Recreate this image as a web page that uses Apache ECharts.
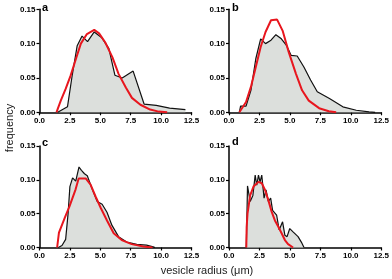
<!DOCTYPE html>
<html><head><meta charset="utf-8">
<script src="https://cdn.jsdelivr.net/npm/echarts@6/dist/echarts.min.js"></script>
<style>html,body{margin:0;padding:0;background:#fff;}#c{width:392px;height:279px;}</style>
</head><body><div id="c"></div>
<script>
// x tick labels and y tick labels
const xTicks = ["0.0","2.5","5.0","7.5","10.0","12.5"];
const yTicks = ["0.00","0.05","0.10","0.15"];
const panelLabels = ["a","b","c","d"];

// Panel a
const blackAx = [1.5,1.9,2.3,2.7,3.1,3.5,3.95,4.5,5.1,5.7,6.2,6.8,7.7,8.6,9.6,10.7,12.0];
const blackAy = [0,0.004,0.008,0.055,0.097,0.111,0.103,0.117,0.109,0.093,0.054,0.050,0.060,0.012,0.010,0.006,0.004];
const redAx = [1.4,1.5,1.75,2.15,2.55,3.0,3.4,3.9,4.5,4.9,5.4,6.0,6.5,7.1,7.6,8.3,9.1,9.8,10.5];
const redAy = [0,0.005,0.017,0.034,0.053,0.078,0.100,0.114,0.120,0.115,0.102,0.080,0.056,0.036,0.021,0.011,0.004,0.001,0];

// Panel b
const blackBx = [0.85,0.95,1.4,1.8,2.2,2.6,3.0,3.45,3.85,4.3,4.7,5.1,5.6,6.15,6.7,7.25,8.25,9.35,10.45,11.5,12.0];
const blackBy = [0,0.009,0.009,0.032,0.078,0.107,0.100,0.105,0.113,0.107,0.098,0.083,0.082,0.066,0.047,0.030,0.020,0.008,0.003,0.0005,0];
const redBx = [0.85,1.4,1.8,2.2,2.6,3.0,3.45,3.95,4.4,4.9,5.5,6.0,6.55,7.4,8.2,8.8];
const redBy = [0,0.015,0.037,0.066,0.095,0.117,0.134,0.135,0.119,0.088,0.056,0.032,0.017,0.006,0.0015,0];

// Panel c
const blackCx = [1.55,1.85,2.15,2.35,2.5,2.72,2.98,3.25,3.45,3.7,3.93,4.3,4.75,5.15,5.55,5.95,6.5,7.17,8.0,8.8,9.35,9.5];
const blackCy = [0,0.003,0.012,0.050,0.090,0.103,0.098,0.119,0.114,0.109,0.106,0.088,0.068,0.064,0.052,0.033,0.016,0.008,0.0045,0.0035,0.001,0];
const redCx = [1.45,1.6,2.1,2.45,2.97,3.22,3.8,4.2,4.62,5.05,5.55,6.1,6.76,7.58,8.54,9.3];
const redCy = [0,0.022,0.045,0.060,0.086,0.102,0.102,0.093,0.075,0.058,0.040,0.021,0.011,0.005,0.0015,0];

// Panel d
const blackDx = [1.42,1.52,1.74,1.96,2.15,2.28,2.42,2.55,2.69,2.88,3.04,3.23,3.42,3.58,3.91,4.12,4.4,4.59,4.77,4.99,5.26,5.67,5.94,6.16];
const blackDy = [0,0.091,0.068,0.077,0.107,0.092,0.107,0.097,0.107,0.073,0.085,0.068,0.073,0.055,0.048,0.026,0.038,0.018,0.016,0.028,0.023,0.016,0.008,0];
const redDx = [1.42,1.45,1.52,1.74,2.01,2.42,2.69,2.96,3.23,3.5,3.77,4.04,4.32,4.59,4.85,5.26];
const redDy = [0,0.03,0.050,0.077,0.090,0.097,0.095,0.085,0.070,0.053,0.040,0.031,0.021,0.011,0.005,0];

const xName = "vesicle radius (μm)";
const yName = "frequency";

const zip = (xs, ys) => xs.map((x, i) => [x, ys[i]]);
const blacks = [zip(blackAx,blackAy), zip(blackBx,blackBy), zip(blackCx,blackCy), zip(blackDx,blackDy)];
const reds = [zip(redAx,redAy), zip(redBx,redBy), zip(redCx,redCy), zip(redDx,redDy)];

const grids = [
  {left: 39.5, top: 9.3, width: 152, height: 103},
  {left: 229, top: 9.3, width: 152.5, height: 103},
  {left: 39.5, top: 146, width: 152, height: 101.5},
  {left: 229, top: 146, width: 152.5, height: 101.5}
];
const FONT = "Liberation Sans";
const axisLine = {show: true, onZero: false, lineStyle: {color: '#000', width: 1.5}};
const axisTick = {show: true, inside: false, length: 3, lineStyle: {color: '#000', width: 1.2}};

const xAxes = grids.map((g, i) => ({
  type: 'value', gridIndex: i, min: 0, max: 12.5, interval: 2.5,
  axisLine, axisTick, splitLine: {show: false},
  axisLabel: {fontFamily: FONT, fontSize: 8, fontWeight: 'bold', color: '#000', margin: 4,
    formatter: v => xTicks[Math.round(v / 2.5)]}
}));
const yAxes = grids.map((g, i) => ({
  type: 'value', gridIndex: i, min: 0, max: 0.15, interval: 0.05,
  axisLine, axisTick, splitLine: {show: false},
  axisLabel: {fontFamily: FONT, fontSize: 8, fontWeight: 'bold', color: '#000', margin: 4,
    formatter: v => yTicks[Math.round(v / 0.05)]}
}));

const series = [];
blacks.forEach((d, i) => series.push({
  type: 'line', xAxisIndex: i, yAxisIndex: i, data: d, showSymbol: false, symbol: 'none',
  lineStyle: {color: '#111', width: 1.2}, areaStyle: {color: '#dcdfdc', opacity: 1}, z: 2, animation: false
}));
reds.forEach((d, i) => series.push({
  type: 'line', xAxisIndex: i, yAxisIndex: i, data: d, showSymbol: false, symbol: 'none',
  lineStyle: {color: '#e8161e', width: 2}, z: 3, animation: false
}));

const letterPos = [[42, 2], [232, 2], [42, 137], [232, 136]];
const graphic = panelLabels.map((t, i) => ({
  type: 'text', left: letterPos[i][0], top: letterPos[i][1],
  style: {text: t, fontFamily: FONT, fontSize: 11, fontWeight: 'bold', fill: '#000'}
}));
graphic.push({
  type: 'text', x: 10, y: 128, rotation: Math.PI / 2,
  style: {text: yName, fontFamily: FONT, fontSize: 11, fill: '#222', align: 'center', verticalAlign: 'middle'}
});
graphic.push({
  type: 'text', x: 207, y: 271, 
  style: {text: xName, fontFamily: FONT, fontSize: 11, fill: '#222', align: 'center', verticalAlign: 'middle'}
});

const chart = echarts.init(document.getElementById('c'), null, {renderer: 'canvas'});
chart.setOption({animation: false, grid: grids, xAxis: xAxes, yAxis: yAxes, series, graphic});
</script>
</body></html>
